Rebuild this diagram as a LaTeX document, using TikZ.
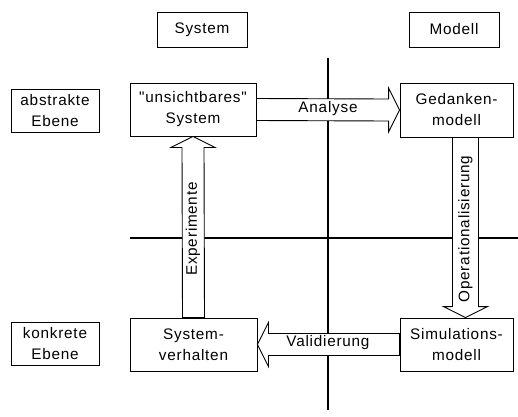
\documentclass[tikz,border=0pt]{standalone}
\usepackage{fontspec}
\setmainfont{Liberation Sans}[Ligatures=TeXOff, LetterSpace=5]
\usetikzlibrary{calc}
\begin{document}
\begin{tikzpicture}[x=1pt,y=-1pt,
  txt/.style={font=\fontsize{15.3}{21}\selectfont},
  box/.style={draw, line width=0.9pt, fill=white, align=center, inner sep=0pt, txt},
  blockarrow/.style={draw, line width=0.9pt, fill=white, line join=miter},
  axis/.style={line width=2.4pt},
  lbl/.style={txt, inner sep=0pt}]
\useasboundingbox (0,0) rectangle (518,416);

% column headers
\node[box, minimum width=90pt, minimum height=35pt] (hsys) at (202,29.5) {System};
\node[box, minimum width=90pt, minimum height=35pt] (hmod) at (454,29.5) {Modell};

% row labels
\node[box, minimum width=88pt, minimum height=43pt] (abs) at (55,110.5) {abstrakte\\Ebene};
\node[box, minimum width=88pt, minimum height=43pt] (kon) at (55,344) {konkrete\\Ebene};

% quadrant axes
\coordinate (vtop) at (328,58);
\coordinate (vbot) at (328,410);
\coordinate (hleft) at (130,238);
\coordinate (hright) at (518,238);
\draw[axis] (vtop) -- (vbot);
\draw[axis] (hleft) -- (hright);

% the four stages
\node[box, minimum width=126pt, minimum height=53pt] (sys) at (193,109.5) {"unsichtbares"\\System};
\node[box, minimum width=113pt, minimum height=54pt] (ged) at (456.5,110) {Gedanken-\\modell};
\node[box, minimum width=127pt, minimum height=53pt] (verh) at (193.5,344.5) {System-\\verhalten};
\node[box, minimum width=113pt, minimum height=53pt] (sim) at (456.5,344.5) {Simulations-\\modell};

% Analyse: sys -> ged
\draw[blockarrow]
  ($(sys.east)+(0,-11)$) -- ($(ged.west)+(-11,-11)$) -- ($(ged.west)+(-11,-22)$)
  -- (ged.west) -- ($(ged.west)+(-11,22)$) -- ($(ged.west)+(-11,11)$)
  -- ($(sys.east)+(0,11)$) -- cycle;
\node[lbl] (lana) at (328,109) {Analyse};

% Experimente: verh -> sys
\draw[blockarrow]
  ($(verh.north)+(-11,0)$) -- ($(sys.south)+(-11,11)$) -- ($(sys.south)+(-22,11)$)
  -- (sys.south) -- ($(sys.south)+(22,11)$) -- ($(sys.south)+(11,11)$)
  -- ($(verh.north)+(11,0)$) -- cycle;
\node[lbl, rotate=90] (lexp) at (193,229) {Experimente};

% Operationalisierung: ged -> sim
\coordinate (otop) at ($(ged.south)+(9,0)$);
\coordinate (obot) at ($(sim.north)+(9,0)$);
\draw[blockarrow]
  ($(otop)+(-13,0)$) -- ($(obot)+(-13,-11)$) -- ($(obot)+(-22,-11)$)
  -- (obot) -- ($(obot)+(22,-11)$) -- ($(obot)+(13,-11)$)
  -- ($(otop)+(13,0)$) -- cycle;
\node[lbl, rotate=90] (lop) at (465.5,229) {Operationalisierung};

% Validierung: sim -> verh
\draw[blockarrow]
  ($(sim.west)+(0,-11)$) -- ($(verh.east)+(11,-11)$) -- ($(verh.east)+(11,-22)$)
  -- (verh.east) -- ($(verh.east)+(11,22)$) -- ($(verh.east)+(11,11)$)
  -- ($(sim.west)+(0,11)$) -- cycle;
\node[lbl] (lval) at (328,343) {Validierung};
\end{tikzpicture}
\end{document}
